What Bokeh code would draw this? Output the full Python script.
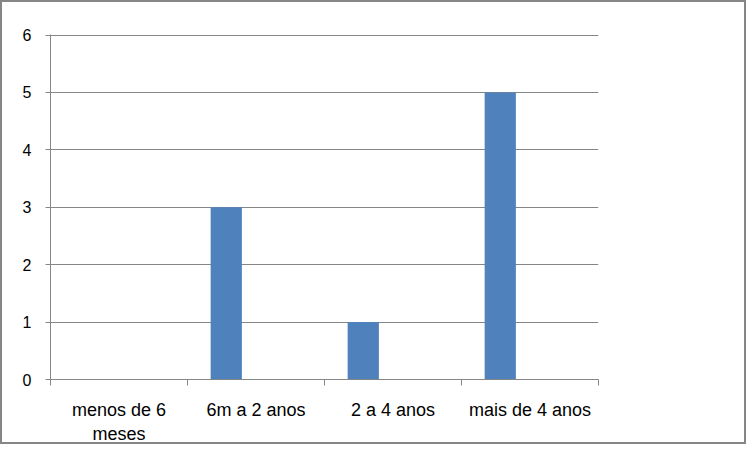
from bokeh.plotting import figure
from bokeh.models import Range1d, FixedTicker
from bokeh.embed import file_html
from bokeh.resources import INLINE

categories = ["menos de 6\nmeses", "6m a 2 anos", "2 a 4 anos", "mais de 4 anos"]
values = [0, 3, 1, 5]
y_ticks = [0, 1, 2, 3, 4, 5, 6]

GRAY = "#868686"
BLUE = "#4F81BD"

n = len(categories)
centers = [i + 0.5 for i in range(n)]
bar_x = [c - 0.217 for c in centers]

p = figure(width=746, height=444, output_backend="svg", toolbar_location=None,
           x_range=Range1d(0, n), y_range=Range1d(0, 6.01),
           min_border_left=48, min_border_right=150, min_border_top=32, min_border_bottom=59,
           styles={"border": "2px solid #868686", "box-sizing": "border-box"})
p.outline_line_color = None
p.background_fill_color = "white"
p.border_fill_color = "white"

p.vbar(x=bar_x, top=values, width=0.228, bottom=0, color=BLUE, line_color=None)

# x axis: labels at category centres, ticks at category boundaries
p.xaxis.ticker = FixedTicker(ticks=centers, minor_ticks=list(range(n + 1)))
p.xaxis.major_label_overrides = {c: lab for c, lab in zip(centers, categories)}
p.xaxis.major_tick_out = 0
p.xaxis.major_tick_in = 0
p.xaxis.minor_tick_out = 6
p.xaxis.minor_tick_in = 0
p.xaxis.minor_tick_line_color = GRAY
p.xaxis.axis_line_color = GRAY
p.xaxis.major_label_standoff = 14
p.xaxis.major_label_text_font = "Liberation Sans"
p.xaxis.major_label_text_font_size = "18px"
p.xaxis.major_label_text_color = "black"

p.yaxis.ticker = FixedTicker(ticks=y_ticks)
p.yaxis.major_tick_out = 5
p.yaxis.major_tick_in = 0
p.yaxis.minor_tick_line_color = None
p.yaxis.major_tick_line_color = GRAY
p.yaxis.axis_line_color = GRAY
p.yaxis.major_label_standoff = 14
p.yaxis.major_label_text_font = "Liberation Sans"
p.yaxis.major_label_text_font_size = "16px"
p.yaxis.major_label_text_color = "black"

p.xgrid.grid_line_color = None
p.ygrid.ticker = FixedTicker(ticks=y_ticks)
p.ygrid.grid_line_color = GRAY

open("out.html", "w").write(file_html(p, INLINE))
